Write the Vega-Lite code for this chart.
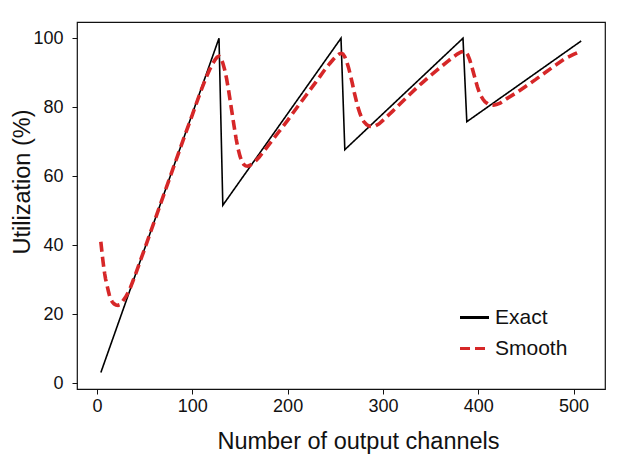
{
  "$schema": "https://vega.github.io/schema/vega-lite/v6.json",
  "width": 528,
  "height": 367,
  "autosize": {"type": "none"},
  "padding": {"left": 77, "top": 22, "right": 25, "bottom": 74},
  "background": "white",
  "config": {
    "font": "Liberation Sans",
    "view": {"stroke": "#111111", "strokeWidth": 1.2},
    "axis": {"labelFont": "Liberation Sans", "titleFont": "Liberation Sans", "labelColor": "#111111", "titleColor": "#111111", "tickColor": "#111111", "labelFontSize": 18, "titleFontSize": 23.5, "titleFontWeight": "normal", "grid": false, "domain": false, "tickSize": 5, "tickWidth": 1}
  },
  "data": {
    "values": [
      {"n": 4, "u": 3.1, "series": "Exact"},
      {"n": 128, "u": 100, "series": "Exact"},
      {"n": 132, "u": 51.6, "series": "Exact"},
      {"n": 256, "u": 100, "series": "Exact"},
      {"n": 260, "u": 67.7, "series": "Exact"},
      {"n": 384, "u": 100, "series": "Exact"},
      {"n": 388, "u": 75.8, "series": "Exact"},
      {"n": 508, "u": 99.2, "series": "Exact"},
      {"n": 4, "u": 41.0, "series": "Smooth"},
      {"n": 5, "u": 38.5, "series": "Smooth"},
      {"n": 6, "u": 36.0, "series": "Smooth"},
      {"n": 7, "u": 33.8, "series": "Smooth"},
      {"n": 8, "u": 31.8, "series": "Smooth"},
      {"n": 9, "u": 30.2, "series": "Smooth"},
      {"n": 10, "u": 29.0, "series": "Smooth"},
      {"n": 11, "u": 27.8, "series": "Smooth"},
      {"n": 12, "u": 26.6, "series": "Smooth"},
      {"n": 13, "u": 25.5, "series": "Smooth"},
      {"n": 14, "u": 24.6, "series": "Smooth"},
      {"n": 16, "u": 23.6, "series": "Smooth"},
      {"n": 18, "u": 23.0, "series": "Smooth"},
      {"n": 20, "u": 22.7, "series": "Smooth"},
      {"n": 22, "u": 22.6, "series": "Smooth"},
      {"n": 24, "u": 22.8, "series": "Smooth"},
      {"n": 26, "u": 23.4, "series": "Smooth"},
      {"n": 28, "u": 24.2, "series": "Smooth"},
      {"n": 30, "u": 25.0, "series": "Smooth"},
      {"n": 34, "u": 27.0, "series": "Smooth"},
      {"n": 40, "u": 31.3, "series": "Smooth"},
      {"n": 50, "u": 39.0, "series": "Smooth"},
      {"n": 60, "u": 46.8, "series": "Smooth"},
      {"n": 70, "u": 54.6, "series": "Smooth"},
      {"n": 80, "u": 62.4, "series": "Smooth"},
      {"n": 90, "u": 70.2, "series": "Smooth"},
      {"n": 100, "u": 77.8, "series": "Smooth"},
      {"n": 108, "u": 84.0, "series": "Smooth"},
      {"n": 114, "u": 88.3, "series": "Smooth"},
      {"n": 118, "u": 90.8, "series": "Smooth"},
      {"n": 121, "u": 92.5, "series": "Smooth"},
      {"n": 124, "u": 93.8, "series": "Smooth"},
      {"n": 126, "u": 94.5, "series": "Smooth"},
      {"n": 128, "u": 94.8, "series": "Smooth"},
      {"n": 130, "u": 94.2, "series": "Smooth"},
      {"n": 132, "u": 92.8, "series": "Smooth"},
      {"n": 134, "u": 90.8, "series": "Smooth"},
      {"n": 136, "u": 88.2, "series": "Smooth"},
      {"n": 138, "u": 85.0, "series": "Smooth"},
      {"n": 140, "u": 81.4, "series": "Smooth"},
      {"n": 142, "u": 77.8, "series": "Smooth"},
      {"n": 144, "u": 74.2, "series": "Smooth"},
      {"n": 146, "u": 70.8, "series": "Smooth"},
      {"n": 148, "u": 68.0, "series": "Smooth"},
      {"n": 150, "u": 65.8, "series": "Smooth"},
      {"n": 152, "u": 64.3, "series": "Smooth"},
      {"n": 154, "u": 63.4, "series": "Smooth"},
      {"n": 156, "u": 63.0, "series": "Smooth"},
      {"n": 158, "u": 62.9, "series": "Smooth"},
      {"n": 160, "u": 63.1, "series": "Smooth"},
      {"n": 163, "u": 63.6, "series": "Smooth"},
      {"n": 166, "u": 64.3, "series": "Smooth"},
      {"n": 170, "u": 65.5, "series": "Smooth"},
      {"n": 180, "u": 69.0, "series": "Smooth"},
      {"n": 190, "u": 72.6, "series": "Smooth"},
      {"n": 200, "u": 76.2, "series": "Smooth"},
      {"n": 210, "u": 80.0, "series": "Smooth"},
      {"n": 220, "u": 83.7, "series": "Smooth"},
      {"n": 230, "u": 87.4, "series": "Smooth"},
      {"n": 238, "u": 90.5, "series": "Smooth"},
      {"n": 244, "u": 92.6, "series": "Smooth"},
      {"n": 248, "u": 93.9, "series": "Smooth"},
      {"n": 251, "u": 94.8, "series": "Smooth"},
      {"n": 254, "u": 95.4, "series": "Smooth"},
      {"n": 256, "u": 95.6, "series": "Smooth"},
      {"n": 258, "u": 95.4, "series": "Smooth"},
      {"n": 260, "u": 94.6, "series": "Smooth"},
      {"n": 262, "u": 93.2, "series": "Smooth"},
      {"n": 264, "u": 91.4, "series": "Smooth"},
      {"n": 266, "u": 89.2, "series": "Smooth"},
      {"n": 268, "u": 86.8, "series": "Smooth"},
      {"n": 270, "u": 84.2, "series": "Smooth"},
      {"n": 272, "u": 81.9, "series": "Smooth"},
      {"n": 274, "u": 79.8, "series": "Smooth"},
      {"n": 276, "u": 78.1, "series": "Smooth"},
      {"n": 278, "u": 76.8, "series": "Smooth"},
      {"n": 280, "u": 75.8, "series": "Smooth"},
      {"n": 283, "u": 74.9, "series": "Smooth"},
      {"n": 286, "u": 74.5, "series": "Smooth"},
      {"n": 289, "u": 74.4, "series": "Smooth"},
      {"n": 292, "u": 74.6, "series": "Smooth"},
      {"n": 296, "u": 75.2, "series": "Smooth"},
      {"n": 300, "u": 76.2, "series": "Smooth"},
      {"n": 310, "u": 78.8, "series": "Smooth"},
      {"n": 320, "u": 81.5, "series": "Smooth"},
      {"n": 330, "u": 84.2, "series": "Smooth"},
      {"n": 340, "u": 86.8, "series": "Smooth"},
      {"n": 350, "u": 89.2, "series": "Smooth"},
      {"n": 360, "u": 91.5, "series": "Smooth"},
      {"n": 368, "u": 93.3, "series": "Smooth"},
      {"n": 374, "u": 94.6, "series": "Smooth"},
      {"n": 378, "u": 95.4, "series": "Smooth"},
      {"n": 382, "u": 96.0, "series": "Smooth"},
      {"n": 385, "u": 96.2, "series": "Smooth"},
      {"n": 387, "u": 96.0, "series": "Smooth"},
      {"n": 389, "u": 95.2, "series": "Smooth"},
      {"n": 391, "u": 93.8, "series": "Smooth"},
      {"n": 393, "u": 92.0, "series": "Smooth"},
      {"n": 395, "u": 90.0, "series": "Smooth"},
      {"n": 397, "u": 88.0, "series": "Smooth"},
      {"n": 399, "u": 86.0, "series": "Smooth"},
      {"n": 401, "u": 84.4, "series": "Smooth"},
      {"n": 403, "u": 83.2, "series": "Smooth"},
      {"n": 405, "u": 82.3, "series": "Smooth"},
      {"n": 407, "u": 81.6, "series": "Smooth"},
      {"n": 410, "u": 81.0, "series": "Smooth"},
      {"n": 413, "u": 80.7, "series": "Smooth"},
      {"n": 416, "u": 80.6, "series": "Smooth"},
      {"n": 419, "u": 80.8, "series": "Smooth"},
      {"n": 423, "u": 81.2, "series": "Smooth"},
      {"n": 430, "u": 82.5, "series": "Smooth"},
      {"n": 440, "u": 84.2, "series": "Smooth"},
      {"n": 450, "u": 86.1, "series": "Smooth"},
      {"n": 460, "u": 88.0, "series": "Smooth"},
      {"n": 470, "u": 90.0, "series": "Smooth"},
      {"n": 480, "u": 92.0, "series": "Smooth"},
      {"n": 490, "u": 93.9, "series": "Smooth"},
      {"n": 500, "u": 95.3, "series": "Smooth"},
      {"n": 508, "u": 96.3, "series": "Smooth"}
    ]
  },
  "encoding": {
    "x": {
      "field": "n", "type": "quantitative",
      "scale": {"domain": [-21, 533], "nice": false, "zero": false},
      "axis": {"values": [0, 100, 200, 300, 400, 500], "title": "Number of output channels", "labelPadding": 3, "titleX": 281, "titleY": 52, "titleBaseline": "middle", "titleAnchor": "middle", "titleAlign": "center"}
    },
    "y": {
      "field": "u", "type": "quantitative",
      "scale": {"domain": [-1.65, 104.7], "nice": false, "zero": false},
      "axis": {"values": [0, 20, 40, 60, 80, 100], "title": "Utilization (%)", "labelPadding": 9, "titleX": -55, "titleY": 159.5, "titleAngle": -90, "titleBaseline": "middle", "titleAlign": "center"}
    },
    "color": {
      "field": "series", "type": "nominal",
      "scale": {"domain": ["Exact", "Smooth"], "range": ["#000000", "#d62728"]},
      "legend": {
        "title": null, "orient": "none", "legendX": 381, "legendY": 279,
        "symbolType": "stroke", "symbolSize": 841, "symbolStrokeWidth": 3.2,
        "labelFontSize": 21, "labelFont": "Liberation Sans", "labelColor": "#111111",
        "labelOffset": 4, "rowPadding": 4, "padding": 0, "symbolOffset": 0
      }
    },
    "strokeDash": {
      "field": "series", "type": "nominal",
      "scale": {"domain": ["Exact", "Smooth"], "range": [[1, 0], [10, 5]]}
    }
  },
  "layer": [
    {
      "transform": [{"filter": "datum.series === 'Exact'"}],
      "mark": {"type": "line", "clip": true, "strokeWidth": 1.6}
    },
    {
      "transform": [{"filter": "datum.series === 'Smooth'"}],
      "mark": {"type": "line", "clip": true, "strokeWidth": 3.6}
    }
  ]
}
